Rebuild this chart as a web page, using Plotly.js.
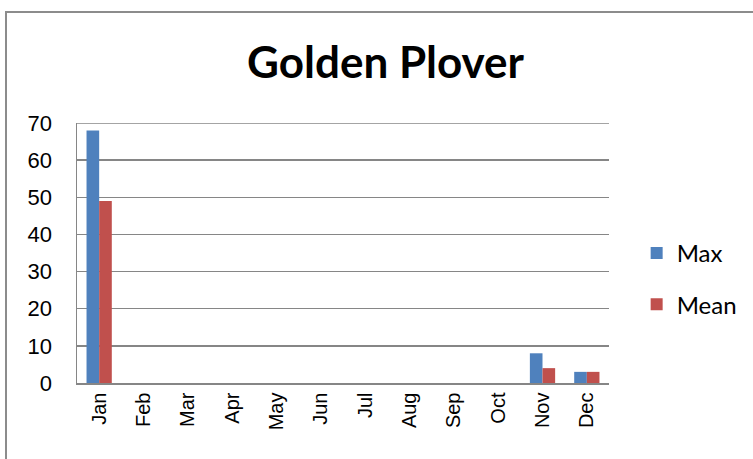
<!DOCTYPE html>
<html>
<head>
<meta charset="utf-8">
<script src="https://cdn.plot.ly/plotly-3.0.1.min.js"></script>
<style>
html,body{margin:0;padding:0;background:#fff;}
#frame{position:absolute;left:5px;top:11px;width:800px;height:500px;border:2px solid #8c8c8c;box-sizing:border-box;}
#chart{position:absolute;left:0;top:0;width:753px;height:459px;}
</style>
</head>
<body>
<div id="frame"></div>
<div id="chart"></div>
<script>
const months = ["Jan","Feb","Mar","Apr","May","Jun","Jul","Aug","Sep","Oct","Nov","Dec"];
const maxValues = [68,0,0,0,0,0,0,0,0,0,8,3];
const meanValues = [49,0,0,0,0,0,0,0,0,0,4,3];
const yTicks = [0,10,20,30,40,50,60,70];

const titleFont = "Lato, Carlito, 'Open Sans', sans-serif";
const tickFont = "'Liberation Sans', Arial, sans-serif";
const data = [
  {type:"bar", name:"Max", legendgroup:"a", x:months, y:maxValues, marker:{color:"#4F81BD"}},
  {type:"bar", name:"Mean", legendgroup:"b", x:months, y:meanValues, marker:{color:"#C0504D"}}
];
const layout = {
  width:753, height:459,
  margin:{l:77, r:143, t:123, b:76},
  paper_bgcolor:"rgba(0,0,0,0)", plot_bgcolor:"rgba(0,0,0,0)",
  title:{text:"<b>Golden Plover</b>", font:{family:titleFont, size:44, color:"#000"}, x:0.512, xref:"container", xanchor:"center", y:0.863, yanchor:"middle", yref:"container"},
  barmode:"group", bargap:0.43, bargroupgap:0,
  showlegend:true,
  legend:{x:1.05, y:0.4, xanchor:"left", yanchor:"middle", traceorder:"grouped", tracegroupgap:17, font:{family:titleFont, size:24, color:"#000"}, itemwidth:30, bgcolor:"rgba(0,0,0,0)"},
  xaxis:{type:"category", tickangle:-90, tickfont:{family:tickFont, size:20, color:"#000"}, showline:true, linecolor:"#868686", linewidth:1.5, ticks:"", showgrid:false},
  yaxis:{range:[0,70], tickvals:yTicks, tickfont:{family:tickFont, size:22, color:"#000"}, ticklabelstandoff:19, showline:true, linecolor:"#868686", linewidth:1.5, showgrid:true, gridcolor:"#868686", gridwidth:1.5, zeroline:false, ticks:"", ticklen:0},
  shapes:[{type:"line", xref:"paper", x0:0, x1:1, yref:"y", y0:70, y1:70, line:{color:"#868686", width:1.5}}]
};
Plotly.newPlot("chart", data, layout, {staticPlot:true, displayModeBar:false});
</script>
</body>
</html>
